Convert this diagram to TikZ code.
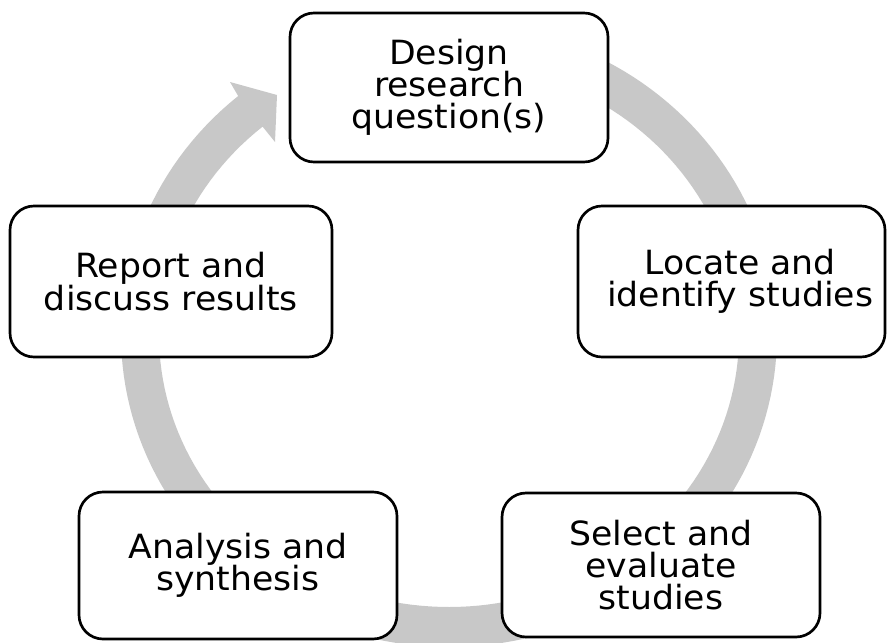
\documentclass[tikz,border=0pt]{standalone}
\usepackage{fontspec}
\setmainfont{DejaVu Sans}[FakeStretch=1.04]
\definecolor{ringgray}{RGB}{200,200,200}
\begin{document}
\begin{tikzpicture}[x=0.75pt,y=-0.75pt,
  stepbox/.style={draw=black, line width=2pt, fill=white, rounded corners=18pt,
    align=center, inner sep=0pt, font=\fontsize{25}{24.2}\selectfont}]
\useasboundingbox (0,0) rectangle (887,642);
% cycle ring with arrow head
\fill[ringgray] (230,82) -- (277,95) -- (275,142)
  -- plot[domain=0:305,samples=160] ({449+290*cos(230-\x)},{335+272*sin(230-\x)})
  -- plot[domain=0:305,samples=160] ({449+328*cos(-75+\x)},{335+312*sin(-75+\x)})
  -- cycle;
% boxes
\node[stepbox, minimum width=238.5pt, minimum height=111.75pt] (design) at (449,87.5)
  {Design\\research\\question(s)};
\node[stepbox, minimum width=230.25pt, minimum height=113.25pt] (locate) at (731.5,281.5)
  {\hspace*{13pt}Locate and\\\hspace*{13pt}identify studies};
\node[stepbox, minimum width=238.5pt, minimum height=108pt] (select) at (661,565)
  {Select and\\evaluate\\studies};
\node[stepbox, minimum width=238.5pt, minimum height=110.25pt] (analysis) at (238,565.5)
  {Analysis and\\synthesis};
\node[stepbox, minimum width=241.5pt, minimum height=113.25pt] (report) at (171,281.5)
  {Report and\\discuss results};
\end{tikzpicture}
\end{document}
